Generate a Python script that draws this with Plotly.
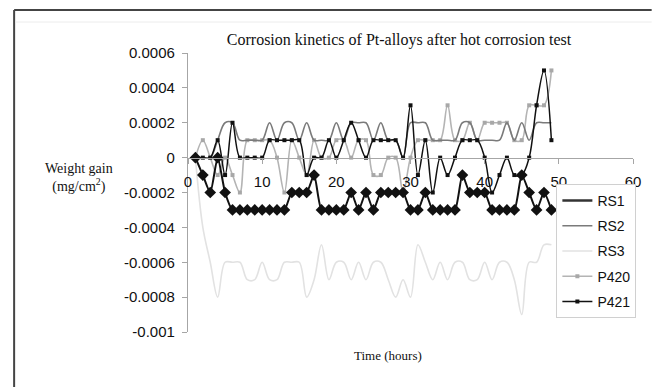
import plotly.graph_objects as go

# ---------------- data (weight gain, x 1e-4 mg/cm2) ----------------
hours = list(range(1, 50))
hours_rs1 = list(range(1, 52))

rs1 = [0, -1, -2, 0, -2, -3, -3, -3, -3, -3, -3, -3, -3, -2, -2, -2, -1, -3, -3, -3,
       -3, -2, -3, -2, -3, -2, -2, -2, -2, -3, -3, -2, -3, -3, -3, -3, -1, -2, -2, -2,
       -3, -3, -3, -3, -1, -2, -3, -2, -3, None, -2]
rs2 = [0, 0, 0, 1, 2, 2, 1, 1, 1, 1, 2, 1, 2, 2, 1, 2, 1, 1, 1, 2,
       1, 2, 2, 2, 1, 2, 1, 1, 0, 2, 2, 2, 1, 1, 1, 1, 2, 2, 1, 1,
       1, 1, 2, 1, 2, 1, 2, 2, 2]
rs3 = [0, -4, -6, -8, -6, -6, -6, -7, -7, -6, -7, -7, -6, -6, -6, -8, -7, -5, -7, -6,
       -6, -7, -6, -7, -6, -6, -7, -8, -7, -8, -5, -6, -7, -6, -7, -6, -6, -7, -7, -6,
       -7, -6, -6, -7, -9, -6, -6, -5, -5]
p420 = [0, 1, 0, -1, 0, -1, -2, 1, 1, 1, 1, 0, -2, 1, 0, -1, 1, 0, 0, 1,
        1, 0, 1, 1, -1, -1, 0, 0, -2, 0, 1, 1, 1, 1, 3, 1, 1, 2, 1, 2,
        2, 2, 2, 1, 1, 3, 3, 3, 5]
p421 = [0, 0, 0, 1, -1, 2, 0, 0, 0, 0, 1, 1, 1, 1, 1, -1, 0, 0, 1, 0,
        1, 2, 1, 0, 1, 1, 1, 1, 0, 3, -1, 1, -2, 0, -1, 0, 1, 1, 1, 0,
        -2, -1, 0, -1, -1, 0, 3, 5, 1]
scale = 1e-4

x_ticks = [0, 10, 20, 30, 40, 50, 60]
y_ticks = [0.0006, 0.0004, 0.0002, 0, -0.0002, -0.0004, -0.0006, -0.0008, -0.001]
y_tick_labels = ["0.0006", "0.0004", "0.0002", "0", "-0.0002", "-0.0004", "-0.0006", "-0.0008", "-0.001"]

def sc(v):
    return [None if a is None else a * scale for a in v]

fig = go.Figure()

fig.add_trace(go.Scatter(x=hours, y=sc(rs3), name="RS3", mode="lines",
                         line=dict(color="#e2e2e2", width=1.6, shape="spline"),
                         legendgroup="c", legendrank=3))
fig.add_trace(go.Scatter(x=hours, y=sc(p420), name="P420", mode="lines+markers",
                         line=dict(color="#b4b4b4", width=1.6, shape="spline"),
                         marker=dict(symbol="square", size=4, color="#a8a8a8"),
                         legendgroup="d", legendrank=4))
fig.add_trace(go.Scatter(x=hours, y=sc(rs2), name="RS2", mode="lines",
                         line=dict(color="#7a7a7a", width=1.6, shape="spline"),
                         legendgroup="b", legendrank=2))
fig.add_trace(go.Scatter(x=hours, y=sc(p421), name="P421", mode="lines+markers",
                         line=dict(color="#111111", width=1.5, shape="spline"),
                         marker=dict(symbol="square", size=4, color="#111111"),
                         legendgroup="e", legendrank=5))
fig.add_trace(go.Scatter(x=hours_rs1, y=sc(rs1), name="RS1", mode="lines+markers",
                         line=dict(color="#111111", width=2, shape="spline", smoothing=0.6),
                         marker=dict(symbol="diamond", size=9, color="#111111"),
                         connectgaps=False, showlegend=False, legendgroup="a"))
# legend proxy for RS1 (line only, as in the reference legend)
fig.add_trace(go.Scatter(x=[None], y=[None], name="RS1", mode="lines",
                         line=dict(color="#333333", width=2.5), legendgroup="a",
                         legendrank=1))

L, R, T, B = 188, 11, 53, 55
W, H = 652, 387
pw, ph = W - L - R, H - T - B

def px(xp):
    return (xp - L) / pw

def py(yp):
    return (H - B - yp) / ph

fig.update_layout(
    width=W, height=H,
    margin=dict(l=L, r=R, t=T, b=B),
    paper_bgcolor="white", plot_bgcolor="white",
    font=dict(family="Liberation Sans, Arial", size=15, color="#111"),
    title=dict(text="Corrosion kinetics of Pt-alloys after hot corrosion test",
               font=dict(family="Liberation Serif, Times New Roman", size=16, color="#111"),
               x=399 / W, xref="container", xanchor="center",
               y=1 - 39 / H, yref="container", yanchor="middle"),
    xaxis=dict(range=[0, 60], tickvals=x_ticks, ticktext=[str(v) for v in x_ticks],
               showgrid=False, zeroline=False, showline=True, linecolor="#a6a6a6", linewidth=1.3,
               ticks="outside", ticklen=5, tickcolor="#a6a6a6",
               anchor="free", position=0.001 / 0.0016, ticklabelstandoff=5,
               tickfont=dict(size=15)),
    yaxis=dict(range=[-0.001, 0.0006], tickvals=y_ticks, ticktext=y_tick_labels,
               showgrid=False, zeroline=False, showline=True, linecolor="#a6a6a6", linewidth=1.3,
               ticks="outside", ticklen=5, tickcolor="#a6a6a6", tickfont=dict(size=15),
               ticklabelstandoff=4),
    legend=dict(x=px(563), y=py(184), xanchor="left", yanchor="top",
                bgcolor="white", bordercolor="#d0d0d0", borderwidth=1,
                font=dict(size=14), tracegroupgap=4, itemwidth=30),
    showlegend=True,
)

fig.add_annotation(text="Weight gain<br>(mg/cm<sup>2</sup>)", x=px(77), y=py(178),
                   xref="paper", yref="paper", showarrow=False, xanchor="center", yanchor="middle",
                   font=dict(family="Liberation Serif, Times New Roman", size=14, color="#111"))
fig.add_annotation(text="Time (hours)", x=px(392), y=py(355),
                   xref="paper", yref="paper", showarrow=False, xanchor="center", yanchor="middle",
                   font=dict(family="Liberation Serif, Times New Roman", size=13, color="#111"))

# outer chart frame (cropped at right/bottom in the reference)
fig.add_shape(type="line", xref="paper", yref="paper", x0=px(11), x1=px(660), y0=py(10), y1=py(10),
              line=dict(color="#444444", width=2))
fig.add_shape(type="line", xref="paper", yref="paper", x0=px(11), x1=px(11), y0=py(10), y1=py(400),
              line=dict(color="#444444", width=2))
fig.add_shape(type="line", xref="paper", yref="paper", x0=px(12), x1=px(660), y0=py(22), y1=py(22),
              line=dict(color="#ececec", width=1))

fig.write_html("out.html")
